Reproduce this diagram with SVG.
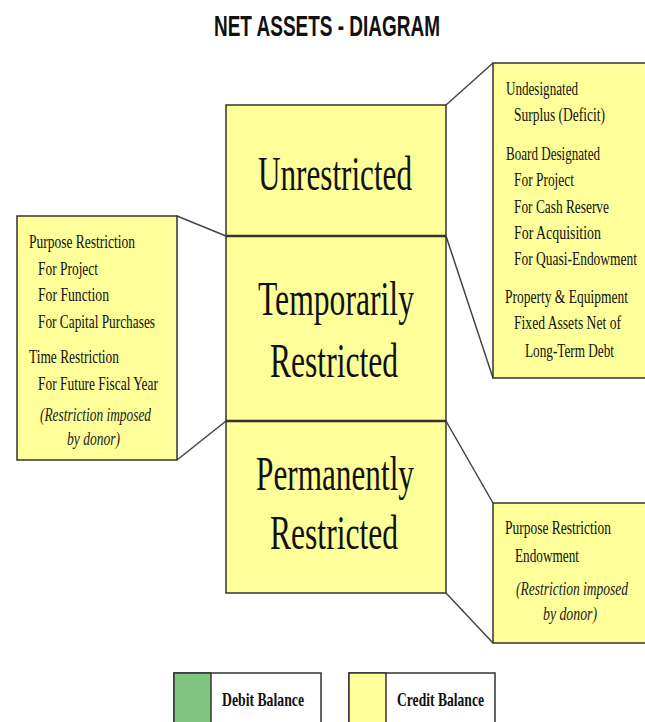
<svg xmlns="http://www.w3.org/2000/svg" width="645" height="722" viewBox="0 0 645 722">
<style>
.box{fill:#FFFF99;stroke:#333;stroke-width:1.5}
.div{stroke:#333;stroke-width:2.5}
.con{stroke:#444;stroke-width:1.5;fill:none}
.big{font-family:"Liberation Serif",serif;font-size:48px;fill:#111;text-anchor:middle}
.sm{font-family:"Liberation Serif",serif;font-size:19px;fill:#111}
.it{font-family:"Liberation Serif",serif;font-size:19px;font-style:italic;fill:#222}
.lg{font-family:"Liberation Serif",serif;font-size:19px;font-weight:bold;fill:#111}
.title{font-family:"Liberation Sans",sans-serif;font-size:30px;font-weight:bold;fill:#111}
</style>
<rect width="645" height="722" fill="#fff"/>
<text class="title" x="214" y="36" textLength="226" lengthAdjust="spacingAndGlyphs">NET ASSETS - DIAGRAM</text>
<g id="connectors">
<line class="con" x1="446" y1="105" x2="493" y2="63"/>
<line class="con" x1="446" y1="236" x2="493" y2="378"/>
<line class="con" x1="446" y1="421" x2="493" y2="503"/>
<line class="con" x1="446" y1="593" x2="493" y2="643"/>
<line class="con" x1="177" y1="216" x2="226" y2="236"/>
<line class="con" x1="177" y1="460" x2="226" y2="421"/>
</g>
<g id="main">
<rect class="box" x="226" y="105" width="220" height="488"/>
<line class="div" x1="226" y1="236" x2="446" y2="236"/>
<line class="div" x1="226" y1="421" x2="446" y2="421"/>
</g>
<g id="unrestricted">
<text class="big" x="335" y="190" textLength="154" lengthAdjust="spacingAndGlyphs">Unrestricted</text>
</g>
<g id="temporarily">
<text class="big" x="336" y="315" textLength="156" lengthAdjust="spacingAndGlyphs">Temporarily</text>
<text class="big" x="334" y="377" textLength="128" lengthAdjust="spacingAndGlyphs">Restricted</text>
</g>
<g id="permanently">
<text class="big" x="335" y="490" textLength="158" lengthAdjust="spacingAndGlyphs">Permanently</text>
<text class="big" x="334" y="549" textLength="128" lengthAdjust="spacingAndGlyphs">Restricted</text>
</g>
<g id="left-note">
<rect class="box" x="17" y="216" width="160" height="244"/>
<text class="sm" x="29" y="248" textLength="106" lengthAdjust="spacingAndGlyphs">Purpose Restriction</text>
<text class="sm" x="38" y="275" textLength="60" lengthAdjust="spacingAndGlyphs">For Project</text>
<text class="sm" x="38" y="301" textLength="71" lengthAdjust="spacingAndGlyphs">For Function</text>
<text class="sm" x="38" y="328" textLength="117" lengthAdjust="spacingAndGlyphs">For Capital Purchases</text>
<text class="sm" x="29" y="363" textLength="90" lengthAdjust="spacingAndGlyphs">Time Restriction</text>
<text class="sm" x="38" y="390" textLength="120" lengthAdjust="spacingAndGlyphs">For Future Fiscal Year</text>
<text class="it" x="40" y="421" textLength="111" lengthAdjust="spacingAndGlyphs">(Restriction imposed</text>
<text class="it" x="67" y="445" textLength="53" lengthAdjust="spacingAndGlyphs">by donor)</text>
</g>
<g id="right-note">
<rect class="box" x="493" y="63" width="153" height="315"/>
<g transform="translate(505,0) scale(0.7,1)">
<text class="sm" x="1.43" y="95" textLength="102.9" lengthAdjust="spacingAndGlyphs">Undesignated</text>
<text class="sm" x="12.86" y="121" textLength="130" lengthAdjust="spacingAndGlyphs">Surplus (Deficit)</text>
<text class="sm" x="1.43" y="160" textLength="134.3" lengthAdjust="spacingAndGlyphs">Board Designated</text>
<text class="sm" x="12.86" y="186" textLength="85.7" lengthAdjust="spacingAndGlyphs">For Project</text>
<text class="sm" x="12.86" y="213" textLength="135.7" lengthAdjust="spacingAndGlyphs">For Cash Reserve</text>
<text class="sm" x="12.86" y="239" textLength="124.3" lengthAdjust="spacingAndGlyphs">For Acquisition</text>
<text class="sm" x="12.86" y="265" textLength="175.7" lengthAdjust="spacingAndGlyphs">For Quasi-Endowment</text>
<text class="sm" x="0" y="303" textLength="175.7" lengthAdjust="spacingAndGlyphs">Property &amp; Equipment</text>
<text class="sm" x="12.86" y="329" textLength="152.9" lengthAdjust="spacingAndGlyphs">Fixed Assets Net of</text>
<text class="sm" x="28.57" y="357" textLength="127.1" lengthAdjust="spacingAndGlyphs">Long-Term Debt</text>
</g>
</g>
<g id="right-lower-note">
<rect class="box" x="493" y="503" width="153" height="140"/>
<g transform="translate(505,0) scale(0.7,1)">
<text class="sm" x="0" y="534" textLength="151.4" lengthAdjust="spacingAndGlyphs">Purpose Restriction</text>
<text class="sm" x="14.29" y="562" textLength="91.4" lengthAdjust="spacingAndGlyphs">Endowment</text>
<text class="it" x="15.71" y="595" textLength="160" lengthAdjust="spacingAndGlyphs">(Restriction imposed</text>
<text class="it" x="54.29" y="620" textLength="77.1" lengthAdjust="spacingAndGlyphs">by donor)</text>
</g>
</g>
<g id="legend-debit">
<rect x="174" y="673" width="147" height="60" fill="#fff" stroke="#333" stroke-width="1.5"/>
<rect x="174" y="673" width="37" height="60" fill="#80C680" stroke="#333" stroke-width="1.5"/>
<text class="lg" x="222" y="706" textLength="82" lengthAdjust="spacingAndGlyphs">Debit Balance</text>
</g>
<g id="legend-credit">
<rect x="349" y="673" width="146" height="60" fill="#fff" stroke="#333" stroke-width="1.5"/>
<rect x="349" y="673" width="37" height="60" fill="#FFFF99" stroke="#333" stroke-width="1.5"/>
<text class="lg" x="397" y="706" textLength="87" lengthAdjust="spacingAndGlyphs">Credit Balance</text>
</g>
</svg>
